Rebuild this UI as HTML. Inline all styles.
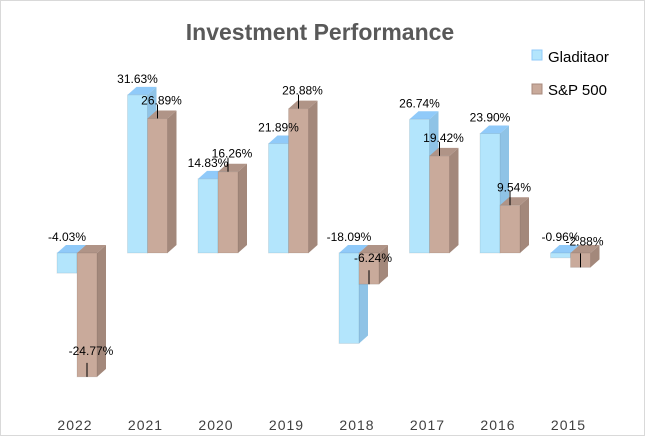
<!DOCTYPE html>
<html><head><meta charset="utf-8"><style>
body{margin:0;background:#fff}
svg{display:block;font-family:"Liberation Sans",sans-serif}
</style></head><body>
<svg width="645" height="436" viewBox="0 0 645 436">
<rect x="0.5" y="0.5" width="644" height="435" fill="#fff" stroke="#d9d9d9"/>
<text x="320" y="40" text-anchor="middle" font-size="23" font-weight="bold" fill="#595959">Investment Performance</text>
<g id="plot"></g>
<g>
<rect x="532" y="50" width="10" height="10" fill="#b3e5fc" stroke="#90caf9"/>
<text x="548" y="62" font-size="15" fill="#000">Gladitaor</text>
<rect x="532" y="84" width="10" height="10" fill="#c9aa9b" stroke="#a88a7d"/>
<text x="548" y="95" font-size="15" fill="#000">S&amp;P 500</text>
</g>
</svg>
<script>
const categories=["2022","2021","2020","2019","2018","2017","2016","2015"];
const gladiator=[-4.03,31.63,14.83,21.89,-18.09,26.74,23.90,-0.96];
const sp500=[-24.77,26.89,16.26,28.88,-6.24,19.42,9.54,-2.88];
const NS="http://www.w3.org/2000/svg";
const plot=document.getElementById('plot');
const zeroY=253, scale=5.0, x0=57, step=70.5, bw=20, dx=9, dy=8;
function y(v){return zeroY-v*scale;}
function xg(i){return x0+i*step;}
function mk(tag,attrs){const e=document.createElementNS(NS,tag);for(const k in attrs)e.setAttribute(k,attrs[k]);plot.appendChild(e);return e;}
function bar(x,v,front,side,top,name){
  const t=Math.min(y(v),zeroY), b=Math.max(y(v),zeroY);
  const s=mk('polygon',{points:`${x+bw},${b} ${x+bw+dx},${b-dy} ${x+bw+dx},${t-dy} ${x+bw},${t}`,fill:side});
  
  
  const tp=mk('polygon',{points:`${x},${t} ${x+dx},${t-dy} ${x+bw+dx},${t-dy} ${x+bw},${t}`,fill:top});
  
  
  const f=mk('rect',{x:x,y:t,width:bw,height:b-t,fill:front,stroke:'rgba(0,0,0,0.08)'});
  
  
}
function label(x,yy,txt,name){
  const t=mk('text',{x:x,y:yy,'text-anchor':'middle','font-size':12,fill:'#000'});
  t.textContent=txt;
  
  
}
categories.forEach((c,i)=>{
  const x=xg(i);
  bar(x,gladiator[i],'#b3e5fc','#8fc3e6','#90caf9','bar-gladiator-'+c);
  bar(x+bw,sp500[i],'#c9aa9b','#a3887b','#b09487','bar-sp500-'+c);
  const gTop=gladiator[i]>0?y(gladiator[i]):zeroY;
  label(x+bw/2,gTop-12,gladiator[i].toFixed(2)+'%','label-gladiator-'+c);
  const sTop=sp500[i]>0?y(sp500[i]):zeroY;
  const lx=x+bw+bw/2+4;
  const ly=sp500[i]>0?sTop-6:y(sp500[i])+2;
  const ln=mk('line',{x1:x+bw+bw/2,y1:sp500[i]>0?sTop:y(sp500[i]),x2:x+bw+bw/2,y2:sp500[i]>0?sTop-14:y(sp500[i])-14,stroke:'#000','stroke-width':1});
  
  
  label(lx,sp500[i]>0?sTop-14:y(sp500[i])-22,sp500[i].toFixed(2)+'%','label-sp500-'+c);
  const yl=mk('text',{x:x+bw-2,y:430,'text-anchor':'middle','font-size':14,fill:'#404040','letter-spacing':'1'});
  yl.textContent=c;
  
  
});
</script>
</body></html>
